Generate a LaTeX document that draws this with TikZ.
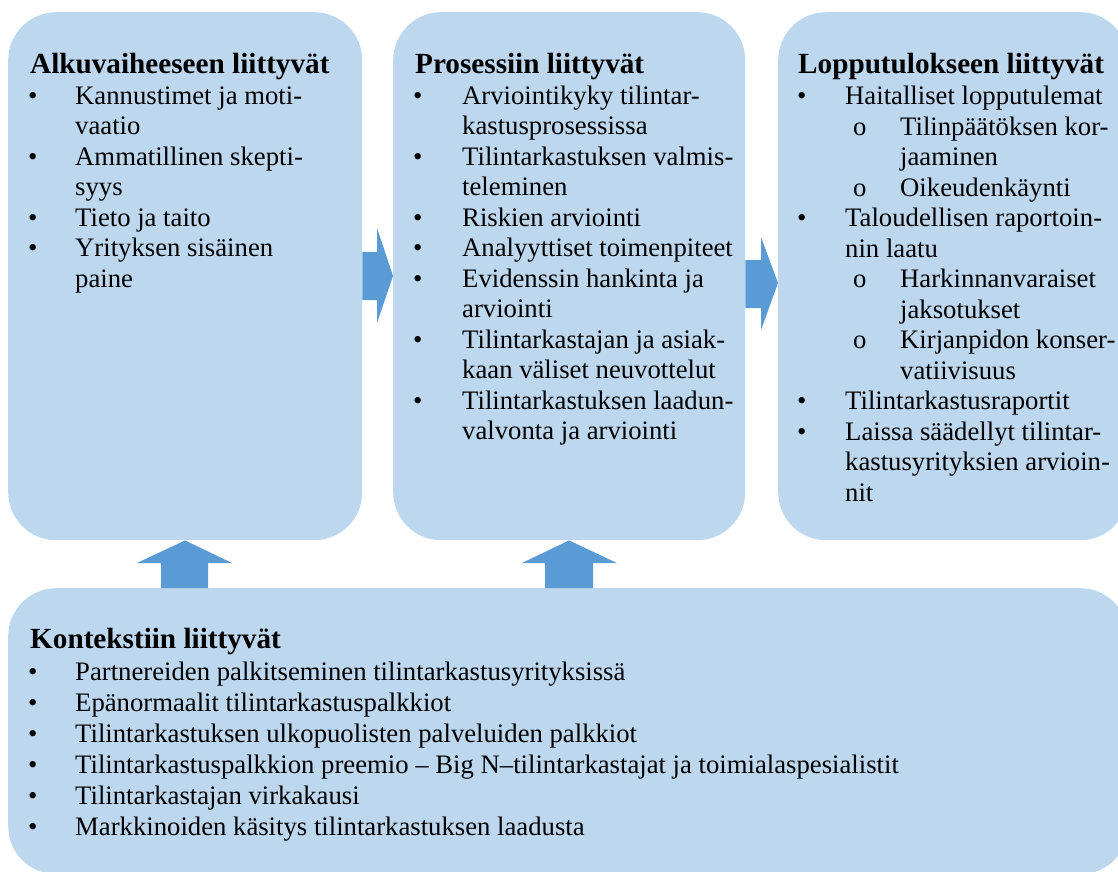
\documentclass[tikz,border=0pt]{standalone}
\usepackage{fontspec}
\setmainfont{Liberation Serif}
\definecolor{boxblue}{HTML}{BDD7EE}
\definecolor{arrblue}{HTML}{5B9BD5}
\begin{document}
\begin{tikzpicture}[x=1pt,y=-1pt,
  box/.style={fill=boxblue, draw=none, rounded corners=48pt, inner sep=0pt, anchor=north west},
  txt/.style={anchor=base west, inner sep=0pt, font=\fontsize{26.7}{30}\selectfont},
  head/.style={anchor=base west, inner sep=0pt, font=\fontsize{29.2}{32}\selectfont\bfseries},
  arr/.style={fill=arrblue, draw=none}]
\useasboundingbox (0,0) rectangle (1118,871);
\clip (0,0) rectangle (1118,871);
% boxes
\node[box, minimum width=354pt, minimum height=528pt] (L) at (8,12) {};
\node[box, minimum width=352pt, minimum height=528pt] (M) at (393,12) {};
\node[box, minimum width=350pt, minimum height=528pt] (R) at (778,12) {};
\node[box, minimum width=1120pt, minimum height=286pt] (B) at (8,588) {};
% right arrows
\fill[arr] (L.east |- 0,252) -- (377,252) -- (377,228) -- (M.west |- 0,276) -- (377,323) -- (377,300) -- (L.east |- 0,300) -- cycle;
\fill[arr] (M.east |- 0,260) -- (761,260) -- (761,237) -- (R.west |- 0,283) -- (761,330) -- (761,308) -- (M.east |- 0,308) -- cycle;
% up arrows
\fill[arr] (161,0 |- B.north) -- (161,563) -- (137,563) -- (185,0 |- L.south) -- (232,563) -- (208,563) -- (208,0 |- B.north) -- cycle;
\fill[arr] (545,0 |- B.north) -- (545,563) -- (522,563) -- (569,0 |- M.south) -- (617,563) -- (593,563) -- (593,0 |- B.north) -- cycle;
% left box text
\node[head] (lh) at (30,73) {Alkuvaiheeseen liittyvät};
\node[txt] (lb1) at (28,104) {•};
\node[txt] (lt1) at (75,104) {Kannustimet ja moti-};
\node[txt] (lt1b) at (75,134.5) {vaatio};
\node[txt] (lb2) at (28,165) {•};
\node[txt] (lt2) at (75,165) {Ammatillinen skepti-};
\node[txt] (lt2b) at (75,195.5) {syys};
\node[txt] (lb3) at (28,226) {•};
\node[txt] (lt3) at (75,226) {Tieto ja taito};
\node[txt] (lb4) at (28,256.5) {•};
\node[txt] (lt4) at (75,256.5) {Yrityksen sisäinen};
\node[txt] (lt4b) at (75,287) {paine};
% middle box text
\node[head] (mh) at (415,73) {Prosessiin liittyvät};
\node[txt] (mb1) at (413,104) {•};
\node[txt] (mt1) at (462,104) {Arviointikyky tilintar-};
\node[txt] (mt1b) at (462,134.5) {kastusprosessissa};
\node[txt] (mb2) at (413,165) {•};
\node[txt] (mt2) at (462,165) {Tilintarkastuksen valmis-};
\node[txt] (mt2b) at (462,195.5) {teleminen};
\node[txt] (mb3) at (413,226) {•};
\node[txt] (mt3) at (462,226) {Riskien arviointi};
\node[txt] (mb4) at (413,256.5) {•};
\node[txt] (mt4) at (462,256.5) {Analyyttiset toimenpiteet};
\node[txt] (mb5) at (413,287) {•};
\node[txt] (mt5) at (462,287) {Evidenssin hankinta ja};
\node[txt] (mt5b) at (462,317.5) {arviointi};
\node[txt] (mb6) at (413,348) {•};
\node[txt] (mt6) at (462,348) {Tilintarkastajan ja asiak-};
\node[txt] (mt6b) at (462,378.5) {kaan väliset neuvottelut};
\node[txt] (mb7) at (413,409) {•};
\node[txt] (mt7) at (462,409) {Tilintarkastuksen laadun-};
\node[txt] (mt7b) at (462,439.5) {valvonta ja arviointi};
% right box text
\node[head] (rh) at (798,73) {Lopputulokseen liittyvät};
\node[txt] (rb1) at (797,104.5) {•};
\node[txt] (rt1) at (845,104.5) {Haitalliset lopputulemat};
\node[txt] (rs1) at (853,135) {o};
\node[txt] (rs1t) at (900,135) {Tilinpäätöksen kor-};
\node[txt] (rs1b) at (900,165.5) {jaaminen};
\node[txt] (rs2) at (853,196) {o};
\node[txt] (rs2t) at (900,196) {Oikeudenkäynti};
\node[txt] (rb2) at (797,226.5) {•};
\node[txt] (rt2) at (845,226.5) {Taloudellisen raportoin-};
\node[txt] (rt2b) at (845,257) {nin laatu};
\node[txt] (rs3) at (853,287.5) {o};
\node[txt] (rs3t) at (900,287.5) {Harkinnanvaraiset};
\node[txt] (rs3b) at (900,318) {jaksotukset};
\node[txt] (rs4) at (853,348.5) {o};
\node[txt] (rs4t) at (900,348.5) {Kirjanpidon konser-};
\node[txt] (rs4b) at (900,379) {vatiivisuus};
\node[txt] (rb3) at (797,409.5) {•};
\node[txt] (rt3) at (845,409.5) {Tilintarkastusraportit};
\node[txt] (rb4) at (797,440) {•};
\node[txt] (rt4) at (845,440) {Laissa säädellyt tilintar-};
\node[txt] (rt4b) at (845,470.5) {kastusyrityksien arvioin-};
\node[txt] (rt4c) at (845,501) {nit};
% bottom box text
\node[head] (bh) at (30,648) {Kontekstiin liittyvät};
\node[txt] (bb1) at (28,680) {•};
\node[txt] (bt1) at (75,680) {Partnereiden palkitseminen tilintarkastusyrityksissä};
\node[txt] (bb2) at (28,711) {•};
\node[txt] (bt2) at (75,711) {Epänormaalit tilintarkastuspalkkiot};
\node[txt] (bb3) at (28,742) {•};
\node[txt] (bt3) at (75,742) {Tilintarkastuksen ulkopuolisten palveluiden palkkiot};
\node[txt] (bb4) at (28,773) {•};
\node[txt] (bt4) at (75,773) {Tilintarkastuspalkkion preemio – Big N–tilintarkastajat ja toimialaspesialistit};
\node[txt] (bb5) at (28,804) {•};
\node[txt] (bt5) at (75,804) {Tilintarkastajan virkakausi};
\node[txt] (bb6) at (28,835) {•};
\node[txt] (bt6) at (75,835) {Markkinoiden käsitys tilintarkastuksen laadusta};
\end{tikzpicture}
\end{document}
